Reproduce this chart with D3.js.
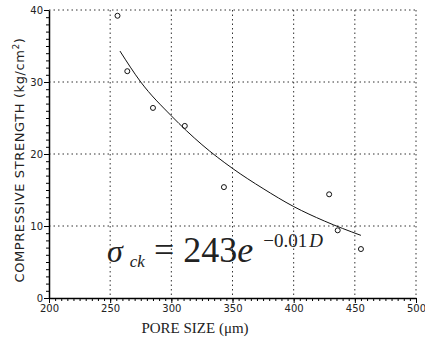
<!DOCTYPE html>
<html lang="en">
<head>
<meta charset="UTF-8"/>
<title>Compressive strength vs pore size</title>
<script src="https://d3js.org/d3.v7.min.js"></script>
<style>
	body { margin: 0; background: #fff; }
	svg text { fill: #222; }
</style>
</head>
<body>
<div id="chart"></div>
<script>
	// data
	var poreSize = [256, 264, 285, 311, 343, 429, 436, 455];
	var strength = [39.2, 31.5, 26.4, 23.9, 15.4, 14.4, 9.4, 6.8];
	// fitted curve as drawn
	var fitX = [258, 275, 300, 325, 350, 375, 400, 425, 455];
	var fitY = [34.3, 30.0, 25.3, 21.3, 18.0, 15.2, 12.7, 10.7, 8.7];
	var xTicks = [200, 250, 300, 350, 400, 450, 500];
	var yTicks = [0, 10, 20, 30, 40];

	var w = 425, h = 341;
	var padL = 49, padR = 416, padT = 10, padB = 298;

	var xScale = d3.scaleLinear().domain([200, 500]).range([padL, padR]);
	var yScale = d3.scaleLinear().domain([0, 40]).range([padB, padT]);

	var svg = d3.select("#chart").append("svg")
		.attr("width", w).attr("height", h);

	// dotted grid
	svg.append("g").selectAll("line")
		.data(xTicks.slice(1))
		.enter().append("line")
		.attr("x1", function(d){ return xScale(d); })
		.attr("x2", function(d){ return xScale(d); })
		.attr("y1", padT).attr("y2", padB)
		.attr("stroke", "#333").attr("stroke-width", 1)
		.attr("stroke-dasharray", "1.5,3");
	svg.append("g").selectAll("line")
		.data(yTicks.slice(1))
		.enter().append("line")
		.attr("y1", function(d){ return yScale(d); })
		.attr("y2", function(d){ return yScale(d); })
		.attr("x1", padL).attr("x2", padR)
		.attr("stroke", "#333").attr("stroke-width", 1)
		.attr("stroke-dasharray", "1.5,3");

	// minor ticks
	var xAxisMinor = d3.axisBottom(xScale).ticks(60).tickSize(3).tickFormat("");
	var yAxisMinor = d3.axisLeft(yScale).ticks(40).tickSize(3).tickFormat("");
	svg.append("g").attr("transform", "translate(0," + padB + ")").call(xAxisMinor)
		.call(function(g){ g.select(".domain").remove(); });
	svg.append("g").attr("transform", "translate(" + padL + ",0)").call(yAxisMinor)
		.call(function(g){ g.select(".domain").remove(); });

	// major axes
	var xAxis = d3.axisBottom(xScale).tickValues(xTicks).tickSize(5).tickSizeOuter(0).tickPadding(2);
	var yAxis = d3.axisLeft(yScale).tickValues(yTicks).tickSize(5).tickSizeOuter(0).tickPadding(1);
	svg.append("g").attr("transform", "translate(0," + padB + ")").call(xAxis)
		.call(function(g){
			g.select(".domain").attr("stroke-width", 1.5);
			g.selectAll("text").attr("font-family", "DejaVu Sans").attr("font-size", "10px").attr("fill", "#333");
		});
	svg.append("g").attr("transform", "translate(" + padL + ",0)").call(yAxis)
		.call(function(g){
			g.select(".domain").attr("stroke-width", 1.5);
			g.selectAll("text").attr("font-family", "DejaVu Sans").attr("font-size", "10px").attr("fill", "#333");
		});

	// fitted curve
	var line = d3.line()
		.x(function(d, i){ return xScale(fitX[i]); })
		.y(function(d){ return yScale(d); })
		.curve(d3.curveMonotoneX);
	svg.append("path").datum(fitY)
		.attr("d", line)
		.attr("fill", "none").attr("stroke", "#111").attr("stroke-width", 1);

	// data points
	svg.selectAll("circle.pt")
		.data(strength)
		.enter().append("circle")
		.attr("class", "pt")
		.attr("cx", function(d, i){ return xScale(poreSize[i]); })
		.attr("cy", function(d){ return yScale(d); })
		.attr("r", 2.5)
		.attr("fill", "none").attr("stroke", "#111").attr("stroke-width", 1);

	// equation
	var eq = svg.append("text")
		.attr("x", 107).attr("y", 262)
		.attr("font-family", "Liberation Serif")
		.attr("fill", "#111");
	eq.append("tspan").attr("font-size", "32px").attr("font-style", "italic").text("σ");
	eq.append("tspan").attr("font-size", "17px").attr("font-style", "italic").attr("dx", 7).attr("dy", 5).text("ck");
	eq.append("tspan").attr("font-size", "36px").attr("dx", 9).attr("dy", -5).text("= 243");
	eq.append("tspan").attr("font-size", "36px").attr("font-style", "italic").text("e");
	eq.append("tspan").attr("font-size", "19px").attr("dx", 10).attr("dy", -15).text("−0.01");
	eq.append("tspan").attr("font-size", "19px").attr("font-style", "italic").attr("dx", 2).text("D");

	// axis titles
	svg.append("text")
		.attr("x", 195).attr("y", 333)
		.attr("text-anchor", "middle")
		.attr("font-family", "Liberation Serif")
		.attr("font-size", "15px")
		.text("PORE SIZE (μm)");

	var yl = svg.append("text")
		.attr("transform", "translate(24,160) rotate(-90)")
		.attr("text-anchor", "middle")
		.attr("font-family", "DejaVu Sans")
		.attr("font-size", "13px")
		.attr("letter-spacing", "0.6px")
		.attr("fill", "#444");
	yl.append("tspan").text("COMPRESSIVE  STRENGTH  (kg/cm");
	yl.append("tspan").attr("dy", -5).attr("font-size", "9px").text("2");
	yl.append("tspan").attr("dy", 5).text(")");
</script>
</body>
</html>
